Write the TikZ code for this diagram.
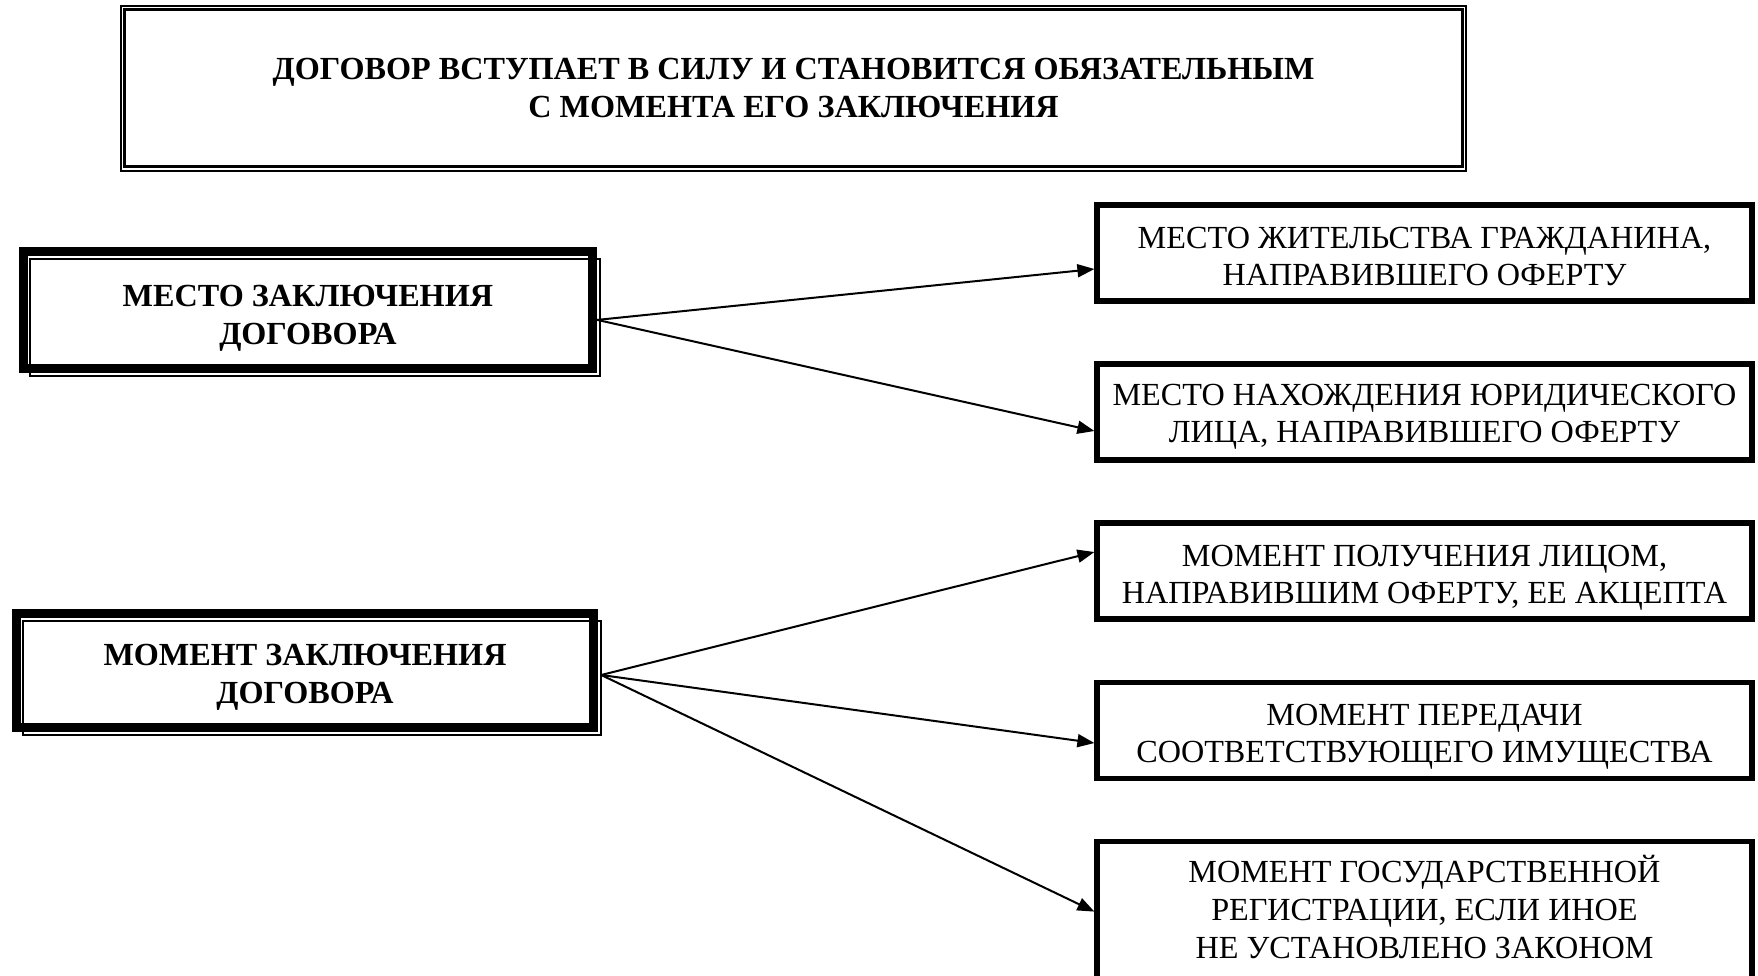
\documentclass[tikz,border=0pt]{standalone}
\usepackage{fontspec}
\setmainfont{Liberation Serif}
\usetikzlibrary{arrows.meta,calc}
\newcommand\boxtext[2]{\raisebox{-#1pt}[\height][\depth]{\begin{tabular}{@{}c@{}}#2\end{tabular}}}
\begin{document}
\begin{tikzpicture}[x=1pt,y=-1pt,
 rbox/.style={draw,line width=5.3pt,inner sep=0pt,outer sep=0pt,minimum width=655pt,minimum height=96pt,font=\fontsize{32.2}{37}\selectfont},
 lbox/.style={draw,line width=9pt,inner sep=0pt,outer sep=0pt,font=\bfseries\fontsize{32.2}{38}\selectfont},
 thinframe/.style={line width=2pt},
 conn/.style={line width=2pt,-{Triangle[length=17pt,width=13pt]}}]
\useasboundingbox (0,0) rectangle (1758,975);
% top box
\node[draw,line width=3pt,inner sep=0pt,outer sep=0pt,minimum width=1338.5pt,minimum height=157.3pt,font=\bfseries\fontsize{32.2}{38}\selectfont] (top) at (793.5,88.3) {\boxtext{2.2}{ДОГОВОР ВСТУПАЕТ В СИЛУ И СТАНОВИТСЯ ОБЯЗАТЕЛЬНЫМ\\С МОМЕНТА ЕГО ЗАКЛЮЧЕНИЯ}};
\draw[line width=1.5pt] ($(top.north west)+(-3.5,-3.9)$) rectangle ($(top.south east)+(3,3.8)$);
% left boxes
\node[lbox,minimum width=568.7pt,minimum height=117.3pt] (mesto) at (307.9,309.9) {\boxtext{8.2}{МЕСТО ЗАКЛЮЧЕНИЯ\\ДОГОВОРА}};
\draw[thinframe] ($(mesto.north west)+(6.5,7.3)$) rectangle ($(mesto.south east)+(7.8,7.7)$);
\node[lbox,minimum width=576.4pt,minimum height=114.5pt] (moment) at (305,670.5) {\boxtext{6.4}{МОМЕНТ ЗАКЛЮЧЕНИЯ\\ДОГОВОРА}};
\draw[thinframe] ($(moment.north west)+(6.5,7.3)$) rectangle ($(moment.south east)+(7.8,7.7)$);
% right boxes
\node[rbox] (r1) at (1424.5,253) {\boxtext{6.8}{МЕСТО ЖИТЕЛЬСТВА ГРАЖДАНИНА,\\НАПРАВИВШЕГО ОФЕРТУ}};
\node[rbox] (r2) at (1424.5,412) {\boxtext{4.8}{МЕСТО НАХОЖДЕНИЯ ЮРИДИЧЕСКОГО\\ЛИЦА, НАПРАВИВШЕГО ОФЕРТУ}};
\node[rbox] (r3) at (1424.5,571) {\boxtext{6.2}{МОМЕНТ ПОЛУЧЕНИЯ ЛИЦОМ,\\НАПРАВИВШИМ ОФЕРТУ, ЕЕ АКЦЕПТА}};
\node[rbox] (r4) at (1424.5,730.5) {\boxtext{5.8}{МОМЕНТ ПЕРЕДАЧИ\\СООТВЕТСТВУЮЩЕГО ИМУЩЕСТВА}};
\node[rbox,minimum height=140pt,font=\fontsize{32.2}{38}\selectfont] (r5) at (1424.5,911.6) {\boxtext{1.4}{МОМЕНТ ГОСУДАРСТВЕННОЙ\\РЕГИСТРАЦИИ, ЕСЛИ ИНОЕ\\НЕ УСТАНОВЛЕНО ЗАКОНОМ}};
% connector ends
\coordinate (s1) at ($(mesto.east)+(5,10)$);
\coordinate (s2) at ($(moment.east)+(8,4.5)$);
\draw[conn] (s1) -- ($(r1.west)+(-2.6,16)$);
\draw[conn] (s1) -- ($(r2.west)+(-2.6,19)$);
\draw[conn] (s2) -- ($(r3.west)+(-2.6,-19)$);
\draw[conn] (s2) -- ($(r4.west)+(-2.6,12.5)$);
\draw[conn] (s2) -- ($(r5.west)+(-2.6,0)$);
\end{tikzpicture}
\end{document}
